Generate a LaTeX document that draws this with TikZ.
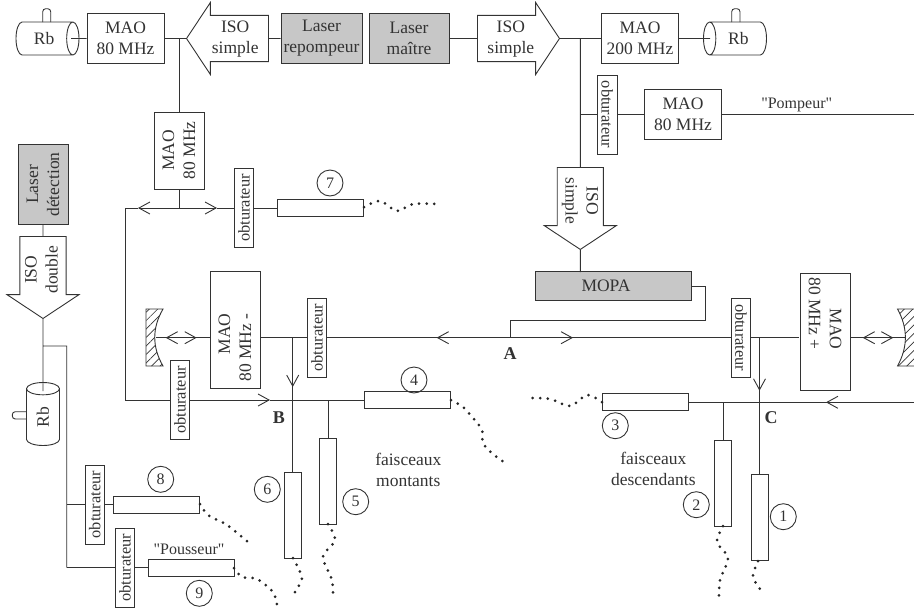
\documentclass[tikz,border=0pt]{standalone}
\usepackage{fontspec}
\setmainfont{Liberation Serif}
\newfontfamily\rawfont{Liberation Serif}
\usetikzlibrary{arrows.meta,shapes.arrows,shapes.geometric,patterns.meta}
\definecolor{ink}{gray}{0.2}
\definecolor{lasergray}{gray}{0.78}
\newcommand{\lignehaute}{\rule[-6.3pt]{0pt}{21pt}}
\tikzset{
  base/.style={draw=ink, text=ink, line width=0.9pt, inner sep=0pt, align=center, font=\fontsize{17.5}{21}\selectfont},
  mao/.style={base, rectangle, minimum width=77pt, minimum height=50pt},
  laser/.style={mao, fill=lasergray},
  obtu/.style={base, rectangle, minimum width=79pt, minimum height=19.5pt, font=\fontsize{16.4}{20}\selectfont},
  fibre/.style={base, rectangle, minimum width=86pt, minimum height=17pt},
  numero/.style={base, circle, minimum size=26pt, font=\fontsize{16}{20}\selectfont},
  iso/.style={base, single arrow, minimum height=82pt, minimum width=72pt, single arrow head extend=12pt, single arrow tip angle=113, anchor=tip},
  rbcell/.style={base, cylinder, shape aspect=1, minimum height=63pt, minimum width=33pt, anchor=shape center},
  label/.style={text=ink, inner sep=0pt, align=center, font=\fontsize{17.5}{21}\selectfont},
  titre/.style={label, font=\rawfont\fontsize{16}{20}\selectfont},
  point/.style={label, font=\fontsize{18}{21}\bfseries\selectfont},
  beam/.style={draw=ink, line width=0.9pt},
  flux/.style={beam, -{Straight Barb[length=11pt,width=12pt,line width=0.9pt]}},
  dots/.style={black!85, line width=3pt, line cap=round, dash pattern=on 0pt off 7.6pt},
  mirror/.style={draw=ink, line width=0.9pt, pattern={Lines[angle=45,distance=6pt,line width=0.7pt]}, pattern color=ink},
}
\begin{document}
\begin{tikzpicture}[x=1pt,y=-1pt]
  \useasboundingbox (0,0) rectangle (914,611);

  % top row
  \node[rbcell] (rb1) at (47.5,38.5) {Rb};
  \node[mao] (mao1) at (125.5,38.5) {MAO\\80 MHz};
  \node[iso, shape border rotate=180] (iso1) at (186,38.5) {\lignehaute ISO\\\lignehaute simple};
  \node[laser, minimum width=81pt] (rep) at (321.5,38.5) {Laser\\repompeur};
  \node[laser, minimum width=80pt] (maitre) at (409,38.5) {Laser\\maître};
  \node[iso] (iso2) at (560,38.5) {\lignehaute ISO\\\lignehaute simple};
  \node[mao] (mao2) at (640,38.5) {MAO\\200 MHz};
  \node[rbcell, shape border rotate=180] (rb2) at (735,38.5) {Rb};
  \coordinate (j1) at (179,38.5);
  \coordinate (j2) at (580.3,38.5);
  \coordinate (rb1e) at (71,38.5);
  \coordinate (rb2e) at (710,38.5);

  \draw[beam] (rb1e)--(mao1) (mao1)--(iso1.tip) (iso1)--(rep) (maitre)--(iso2) (iso2.tip)--(mao2) (mao2)--(rb2e);
  \draw[beam, rounded corners=3pt] (42.7,22)--(42.7,8.7)--(50.7,8.7)--(50.7,22);
  \draw[beam, rounded corners=3pt] (731.7,22)--(731.7,8.7)--(740,8.7)--(740,22);

  % pompeur branch
  \node[obtu, rotate=-90] (ob0) at (607.3,114.5) {obturateur};
  \node[mao] (mao3) at (683,114.5) {MAO\\80 MHz};
  \node[titre] (pomp) at (796.7,105) {"Pompeur"};
  \coordinate (pompe) at (914,114.5);
  \coordinate (j3) at (580.3,114.5);
  \draw[beam] (j3)--(ob0) (ob0)--(mao3) (mao3)--(pompe);

  % MOPA
  \node[iso, rotate=-90] (iso3) at (580.3,250) {\lignehaute ISO\\\lignehaute simple};
  \node[laser, minimum width=156pt, minimum height=29pt] (mopa) at (613,286) {MOPA\hspace*{14pt}};
  \coordinate (j4) at (580.3,272);
  \draw[beam] (j2)--(iso3.west) (iso3.tip)--(j4);

  % repompeur branch
  \node[mao, rotate=90] (mao4) at (179,150.5) {MAO\\80 MHz};
  \node[obtu, rotate=90] (ob7) at (244,208) {obturateur};
  \node[fibre] (fib7) at (320,208) {};
  \node[numero] (n7) at (330,183) {7};
  \coordinate (a7l) at (125,208);
  \coordinate (a7m) at (179,208);
  \coordinate (t7l) at (138,208);
  \coordinate (t7r) at (217,208);
  \coordinate (a7b) at (125,400);
  \draw[beam] (j1)--(mao4) (mao4)--(a7m) (a7l)--(a7b) (ob7)--(fib7) (t7l)--(a7l) (t7r)--(ob7);
  \draw[flux] (a7m)--(t7l);
  \draw[flux] (a7m)--(t7r);
  \draw[dots] plot[smooth] coordinates {(364,207) (380,201) (397,211) (413,204) (437,204)};

  % detection
  \node[laser, rotate=90, minimum width=80pt] (det) at (43,184.5) {Laser\\détection};
  \node[iso, rotate=90, shape border rotate=180] (iso4) at (43,319) {\lignehaute ISO\\\lignehaute double};
  \node[rbcell, rotate=90] (rb3) at (43,414) {Rb};
  \coordinate (rb3e) at (43,391);
  \coordinate (j5) at (43,346);
  \coordinate (j6) at (66.7,346);
  \coordinate (j7) at (66.7,504.5);
  \coordinate (j8) at (66.7,567.7);
  \draw[beam] (det)--(iso4.east) (iso4.tip)--(rb3e) (j5)--(j6)--(j8);
  \draw[beam, rounded corners=3pt] (26.7,411.7)--(12.3,411.7)--(12.3,419)--(26.7,419);

  \node[obtu, rotate=90] (ob8) at (94.7,504.5) {obturateur};
  \node[fibre] (fib8) at (156.3,504.5) {};
  \node[numero] (n8) at (160.7,479.3) {8};
  \draw[beam] (j7)--(ob8) (ob8)--(fib8);
  \draw[dots] plot[smooth] coordinates {(200,504) (208,515) (227,525) (248,542)};

  \node[obtu, rotate=90] (ob9) at (125,567.7) {obturateur};
  \node[fibre] (fib9) at (191,567.7) {};
  \node[titre] (pous) at (189,549) {"Pousseur"};
  \node[numero] (n9) at (199.3,593.3) {9};
  \draw[beam] (j8)--(ob9) (ob9)--(fib9);
  \draw[dots] plot[smooth] coordinates {(234,568) (242,577) (257,579) (273,592) (277,605)};

  % MOPA line
  \coordinate (ma) at (510,337.7);
  \coordinate (mc) at (705.3,320);
  \node[point] (A) at (510,354) {A};
  \draw[beam] (mopa.east)-|(mc)-|(ma);

  \node[mao, rotate=90, minimum width=117pt, align=right] (maom) at (235,329.5) {MAO\hspace*{36pt}\\80 MHz -\hspace*{36pt}};
  \node[mao, rotate=-90, minimum width=117pt, align=right] (maop) at (825,331.5) {MAO\hspace*{36pt}\\80 MHz +\hspace*{36pt}};
  \node[obtu, rotate=90] (ob1) at (317,337.7) {obturateur};
  \node[obtu, rotate=-90] (ob2) at (741,337.7) {obturateur};
  \node[obtu, rotate=90] (ob3) at (180,400) {obturateur};

  \coordinate (t1) at (436.7,337.7);
  \coordinate (t2) at (573,337.7);
  \draw[beam] (ob1)--(ob2);
  \draw[flux] (ma)--(t1);
  \draw[flux] (ma)--(t2);

  % mirrors
  \draw[mirror] (146,309)--(163,309) .. controls (152,328) and (152,347) .. (163,366)--(146,366)--cycle;
  \draw[mirror] (914,309)--(897.5,309) .. controls (908,328) and (908,347) .. (897.5,366)--(914,366);
  \coordinate (m1) at (156,337.7);
  \coordinate (m2) at (905,337.7);
  \coordinate (m1t) at (165.7,337.7);
  \coordinate (m1r) at (196.7,337.7);
  \coordinate (m2t) at (862.7,337.7);
  \coordinate (m2r) at (893.3,337.7);
  \coordinate (mar) at (181,337.7);
  \coordinate (mbr) at (878,337.7);
  \coordinate (maoml) at (210,337.7);
  \coordinate (maomr) at (260,337.7);
  \coordinate (maopl) at (799.3,337.7);
  \coordinate (maopr) at (850.3,337.7);
  \draw[flux] (mar)--(m1t);
  \draw[flux] (mar)--(m1r);
  \draw[beam] (m1)--(maoml);
  \draw[flux] (mbr)--(m2t);
  \draw[flux] (mbr)--(m2r);
  \draw[beam] (maopr)--(m2);

  % B side
  \coordinate (mbj) at (292.7,337.7);
  \coordinate (t6) at (292.7,387);
  \coordinate (t4) at (270,400);
  \node[fibre] (fib4) at (407,400) {};
  \node[numero] (n4) at (414,380) {4};
  \node[fibre, rotate=90] (fib6) at (292.7,515) {};
  \node[numero] (n6) at (267.3,489.3) {6};
  \node[fibre, rotate=90] (fib5) at (328.3,481.4) {};
  \node[numero] (n5) at (355.7,501.7) {5};
  \node[point] (B) at (279,418) {B};
  \coordinate (j9) at (328.3,400);
  \node[label] (mont) at (408.3,470) {faisceaux\\montants};
  \draw[beam] (a7b)--(ob3) (t4)--(fib4) (maomr)--(ob1) (mbj)--(fib6) (j9)--(fib5);
  \draw[flux] (ob3)--(t4);
  \draw[flux] (mbj)--(t6);
  \draw[dots] plot[smooth] coordinates {(451,400) (463,407) (473,418) (482,430) (483,443) (493,454) (508,465)};
  \draw[dots] plot[smooth] coordinates {(293,558) (302,578) (295,592) (295,598)};
  \draw[dots] plot[smooth] coordinates {(328,524) (335,540) (323,557) (332,580) (333,598)};

  % C side
  \coordinate (mcj) at (759.5,337.7);
  \coordinate (t1d) at (759.5,390.7);
  \coordinate (lr) at (914,402.3);
  \coordinate (t3) at (826,402.3);
  \coordinate (j10) at (723.3,402.3);
  \node[fibre] (fib3) at (645.3,402.3) {};
  \node[numero] (n3) at (615.3,425.7) {3};
  \node[fibre, rotate=90] (fib1) at (759.5,517.3) {};
  \node[numero] (n1) at (783.3,516.7) {1};
  \node[fibre, rotate=90] (fib2) at (723.3,483) {};
  \node[numero] (n2) at (696.3,504.7) {2};
  \node[point] (C) at (771,418) {C};
  \node[label] (desc) at (653.3,468.5) {faisceaux\\descendants};
  \draw[beam] (ob2)--(maopl) (mcj)--(fib1) (lr)--(fib3) (j10)--(fib2);
  \draw[flux] (lr)--(t3);
  \draw[flux] (mcj)--(t1d);
  \draw[dots] plot[smooth] coordinates {(602,402) (587,395) (570,406) (550,399) (528,398)};
  \draw[dots] plot[smooth] coordinates {(723,526) (717,542) (728,558) (720,580) (719,600)};
  \draw[dots] plot[smooth] coordinates {(758,561) (753,577) (763,593)};
\end{tikzpicture}
\end{document}
